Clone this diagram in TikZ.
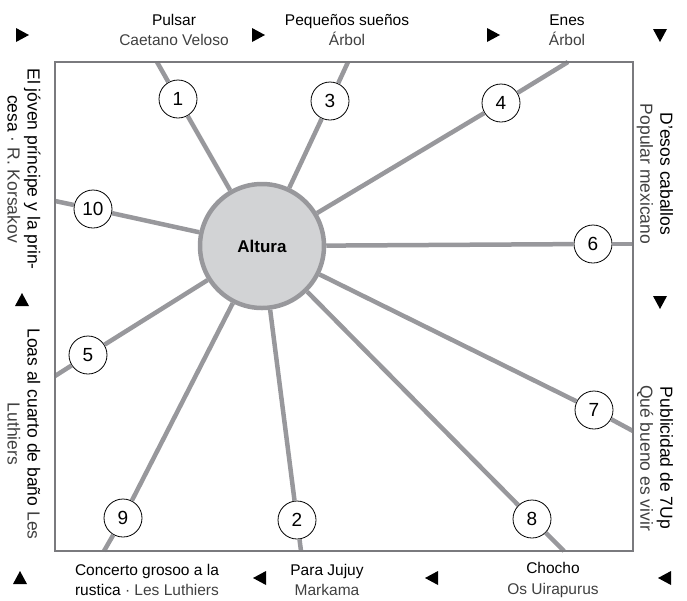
\documentclass[tikz,border=0pt]{standalone}
\usepackage{fontspec}
\setmainfont{Liberation Sans}
\definecolor{spokecol}{HTML}{98989C}
\definecolor{hubfill}{HTML}{D2D3D5}
\definecolor{framecol}{HTML}{7A7A7E}
\definecolor{subcol}{HTML}{404040}
\newcommand\subt[1]{{\color{subcol}#1}}
\tikzset{
  spoke/.style={draw=spokecol, line width=4.5pt},
  framebox/.style={draw=framecol, line width=1.4pt},
  hub/.style={circle, fill=hubfill, draw=spokecol, line width=4.5pt, minimum size=124pt, inner sep=0pt, font=\fontsize{17}{20}\selectfont\bfseries},
  num/.style={circle, fill=white, draw=black, line width=0.8pt, minimum size=38pt, inner sep=0pt, font=\fontsize{19}{20}\selectfont},
  lbl/.style={align=center, inner sep=0pt, font=\fontsize{15.5}{20.5}\selectfont},
  vlbl/.style={align=center, inner sep=0pt, rotate=-90, font=\fontsize{17.5}{20}\selectfont},
  tri/.pic={\fill (-6,-7) -- (-6,7) -- (7,0) -- cycle;}
}
\begin{document}
\begin{tikzpicture}[x=1pt,y=-1pt]
\useasboundingbox (0,0) rectangle (687,600);
% spoke ends on the frame
\coordinate (e1) at (157,62);
\coordinate (e3) at (348,62);
\coordinate (e4) at (568,62);
\coordinate (e10) at (55,201);
\coordinate (e5) at (55,376);
\coordinate (e6) at (633,244);
\coordinate (e7) at (633,431);
\coordinate (e8) at (564,551);
\coordinate (e2) at (301,551);
\coordinate (e9) at (104,551);
% hub and numbered circles
\node[hub] (c) at (262,246) {Altura};
\node[num] (n1) at (178,99) {1};
\node[num] (n2) at (297,520) {2};
\node[num] (n3) at (330,101) {3};
\node[num] (n4) at (501,103) {4};
\node[num] (n5) at (88,355) {5};
\node[num] (n6) at (593,244) {6};
\node[num] (n7) at (594,410) {7};
\node[num] (n8) at (532,519) {8};
\node[num] (n9) at (123,518) {9};
\node[num] (n10) at (93,209) {10};
\foreach \i in {1,...,10}{
  \draw[spoke] (c) -- (n\i);
  \draw[spoke] (n\i) -- (e\i);
}
\draw[framebox] (55,62) rectangle (633,551);
% top labels
\node[lbl] (t1) at (174,30) {Pulsar\\\subt{Caetano Veloso}};
\node[lbl] (t2) at (347,30) {Pequeños sueños\\\subt{Árbol}};
\node[lbl] (t3) at (567,30) {Enes\\\subt{Árbol}};
% right labels
\node[vlbl] (r1) at (655,174) {D'esos caballos\\\subt{Popular mexicano}};
\node[vlbl] (r2) at (655,458) {Publicidad de 7Up\\\subt{Qué bueno es vivir}};
% bottom labels
\node[lbl] (b1) at (553,580) {Chocho\\\subt{Os Uirapurus}};
\node[lbl] (b2) at (327,580) {Para Jujuy\\\subt{Markama}};
\node[lbl] (b3) at (147,580) {Concerto grosoo a la\\rustica \subt{· Les Luthiers}};
% left labels
\node[vlbl] (l1) at (24,169) {El jóven príncipe y la prin-\\cesa \subt{· R. Korsakov}};
\node[vlbl] (l2) at (24,434) {Loas al cuarto de baño \subt{Les}\\\subt{Luthiers}};
% arrow marks
\pic at (22,35) {tri};
\pic at (258,35) {tri};
\pic at (493,35) {tri};
\pic[rotate=-90] at (660,35) {tri};
\pic[rotate=-90] at (660,302) {tri};
\pic[rotate=180] at (665,578) {tri};
\pic[rotate=180] at (432,578) {tri};
\pic[rotate=180] at (260,578) {tri};
\pic[rotate=90] at (20,578) {tri};
\pic[rotate=90] at (22,300) {tri};
\end{tikzpicture}
\end{document}
